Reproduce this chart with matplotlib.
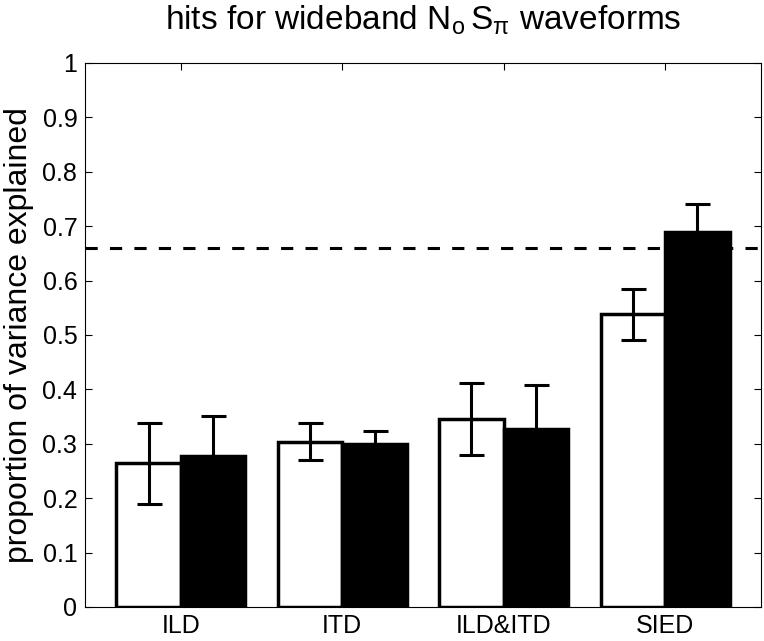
import numpy as np
import matplotlib.pyplot as plt

plt.rcParams['font.family'] = ['Liberation Sans', 'DejaVu Sans']
plt.rcParams['mathtext.fontset'] = 'custom'
plt.rcParams['mathtext.rm'] = 'Liberation Sans'

conditions = ['ILD', 'ITD', 'ILD&ITD', 'SIED']
white_vals = [0.264, 0.304, 0.346, 0.538]
white_err = [0.074, 0.034, 0.066, 0.047]
black_vals = [0.278, 0.299, 0.328, 0.690]
black_err = [0.074, 0.025, 0.080, 0.050]
ceiling = 0.66

fig = plt.figure(figsize=(7.64, 6.41), dpi=100)
ax = fig.add_axes([85/764, 34/641, 676/764, 544/641])

x = np.arange(1, len(conditions) + 1)
w = 0.4
ax.bar(x - w/2, white_vals, w, color='white', edgecolor='black', linewidth=2.5, zorder=2)
ax.bar(x + w/2, black_vals, w, color='black', edgecolor='black', linewidth=2.5, zorder=2)
ax.errorbar(x - w/2, white_vals, yerr=white_err, fmt='none', ecolor='black',
            elinewidth=2.2, capsize=9, capthick=2.2, zorder=3)
ax.errorbar(x + w/2, black_vals, yerr=black_err, fmt='none', ecolor='black',
            elinewidth=2.2, capsize=9, capthick=2.2, zorder=3)
ax.axhline(ceiling, color='black', linestyle=(0, (4, 4)), linewidth=2.2, zorder=4)

ax.set_xlim(0.406, 4.594)
ax.set_ylim(0, 1)
ax.set_xticks(x)
ax.set_xticklabels(conditions, fontsize=18)
ax.set_yticks(np.arange(0, 1.01, 0.1))
ax.set_yticklabels(['0'] + ['%.1f' % v for v in np.arange(0.1, 0.95, 0.1)] + ['1'], fontsize=18)
ax.tick_params(direction='in', top=True, right=True, length=5, width=0.8)
ax.tick_params(axis='y', pad=5.5)
ax.tick_params(axis='x', pad=5)
for s in ax.spines.values():
    s.set_linewidth(0.8)

ax.set_ylabel('proportion of variance explained', fontsize=23, labelpad=6)
ax.set_title(r'hits for wideband N$_{\mathregular{o}}\,$S$_{\mathregular{\pi}}$ waveforms',
             fontsize=24, pad=24)

fig.savefig('out.png', dpi=100)
